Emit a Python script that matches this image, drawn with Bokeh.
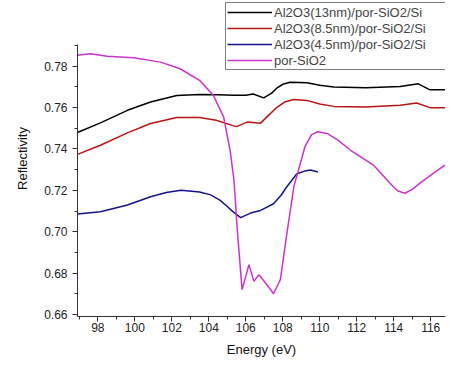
from bokeh.plotting import figure
from bokeh.models import FixedTicker, Legend, LegendItem, Range1d, PrintfTickFormatter
from bokeh.embed import file_html
from bokeh.resources import INLINE

# Energy (eV) and reflectivity for each sample
x_13 = [96.9, 98.14, 99.6, 100.85, 102.27, 103.5, 104.5, 105.36, 106.0, 106.4, 106.97, 107.4, 107.7, 108.0, 108.4, 109.3, 110.0, 110.75, 112.5, 114.35, 115.33, 115.96, 116.77]
y_13 = [0.748, 0.7526, 0.7587, 0.7627, 0.7659, 0.7664, 0.7662, 0.766, 0.766, 0.7666, 0.7647, 0.767, 0.7696, 0.7713, 0.7723, 0.772, 0.7708, 0.770, 0.7696, 0.7702, 0.7715, 0.7686, 0.7686]

x_85 = [96.9, 98.14, 99.6, 100.85, 102.27, 103.5, 104.4, 105.3, 105.5, 106.07, 106.8, 107.2, 107.7, 108.1, 108.6, 109.3, 110.0, 110.75, 112.5, 114.35, 115.24, 115.96, 116.77]
y_85 = [0.7374, 0.7418, 0.7478, 0.7523, 0.7552, 0.7552, 0.7539, 0.7513, 0.7508, 0.753, 0.7525, 0.756, 0.7603, 0.7627, 0.7639, 0.7635, 0.7618, 0.7606, 0.7603, 0.7611, 0.7622, 0.760, 0.760]

x_45 = [96.9, 98.14, 99.6, 100.85, 101.7, 102.5, 103.5, 104.1, 104.6, 105.0, 105.3, 105.72, 106.26, 106.8, 107.5, 107.9, 108.2, 108.75, 109.2, 109.5, 109.9]
y_45 = [0.7086, 0.7097, 0.7129, 0.7169, 0.719, 0.7201, 0.7192, 0.7178, 0.7153, 0.7122, 0.7097, 0.7068, 0.709, 0.7103, 0.7135, 0.7175, 0.7215, 0.7279, 0.7294, 0.7298, 0.7289]

x_por = [96.9, 97.6, 98.5, 99.94, 101.4, 102.45, 103.5, 104.24, 104.8, 105.15, 105.36, 105.54, 105.8, 106.0, 106.17, 106.44, 106.71, 107.07, 107.5, 107.87, 108.2, 108.6, 109.2, 109.55, 109.86, 110.4, 111.0, 111.65, 112.9, 113.8, 114.2, 114.6, 115.0, 115.4, 116.14, 116.77]
y_por = [0.7853, 0.7861, 0.7848, 0.7841, 0.782, 0.7788, 0.7732, 0.766, 0.7555, 0.7395, 0.725, 0.7009, 0.672, 0.6784, 0.6841, 0.676, 0.6792, 0.6752, 0.670, 0.6768, 0.6977, 0.7218, 0.7411, 0.7468, 0.7483, 0.7475, 0.7442, 0.7395, 0.7322, 0.7234, 0.7198, 0.7186, 0.7205, 0.7234, 0.7282, 0.7322]

labels = ["Al2O3(13nm)/por-SiO2/Si", "Al2O3(8.5nm)/por-SiO2/Si", "Al2O3(4.5nm)/por-SiO2/Si", "por-SiO2"]
x_ticks = [98, 100, 102, 104, 106, 108, 110, 112, 114, 116]
y_ticks = [0.66, 0.68, 0.70, 0.72, 0.74, 0.76, 0.78]
y_axis_extent = (0.659, 0.7905)

p = figure(width=460, height=359, output_backend="svg", toolbar_location=None,
           x_range=Range1d(96.9, 116.8), y_range=Range1d(0.659, 0.8118),
           min_border_left=77, min_border_top=0, min_border_right=15, min_border_bottom=42)
p.outline_line_color = None
p.grid.visible = False

colors = ["#000000", "#b81414", "#14148c", "#cc33cc"]
series = [(x_13, y_13), (x_85, y_85), (x_45, y_45), (x_por, y_por)]
items = []
for (xs, ys), c, lab in zip(series, colors, labels):
    r = p.line(xs, ys, line_color=c, line_width=1.5)
    items.append(LegendItem(label=lab, renderers=[r]))

p.xaxis.ticker = FixedTicker(ticks=x_ticks, minor_ticks=[v + 1 for v in x_ticks] + [97])
p.yaxis.ticker = FixedTicker(ticks=y_ticks, minor_ticks=[round(v + 0.01, 2) for v in y_ticks])
p.yaxis.formatter = PrintfTickFormatter(format="%.2f")
p.yaxis.bounds = y_axis_extent

for ax in (p.xaxis, p.yaxis):
    ax.axis_line_color = "#333333"
    ax.major_tick_line_color = "#333333"
    ax.minor_tick_line_color = "#333333"
    ax.major_tick_out = 5
    ax.major_tick_in = 0
    ax.minor_tick_out = 3
    ax.minor_tick_in = 0
    ax.major_label_text_font = "Liberation Sans"
    ax.major_label_text_font_size = "12px"
    ax.major_label_text_color = "#222222"
    ax.axis_label_text_font = "Liberation Sans"
    ax.axis_label_text_font_size = "13px"
    ax.axis_label_text_font_style = "normal"
    ax.axis_label_text_color = "#111111"

p.xaxis.axis_label = "Energy (eV)"
p.yaxis.axis_label = "Reflectivity"
p.xaxis.major_label_standoff = 1
p.xaxis.axis_label_standoff = 7
p.yaxis.axis_label_standoff = 11

legend = Legend(items=items, location=(148, 246))
legend.label_text_font = "Liberation Sans"
legend.label_text_font_size = "13px"
legend.label_height = 16
legend.glyph_height = 16
legend.glyph_width = 45
legend.label_width = 171
legend.spacing = 0
legend.padding = 1
legend.margin = 0
legend.label_standoff = 2
legend.border_line_color = "#000000"
legend.border_line_width = 1
legend.background_fill_alpha = 1
p.add_layout(legend, "center")

open("out.html", "w").write(file_html(p, INLINE))
